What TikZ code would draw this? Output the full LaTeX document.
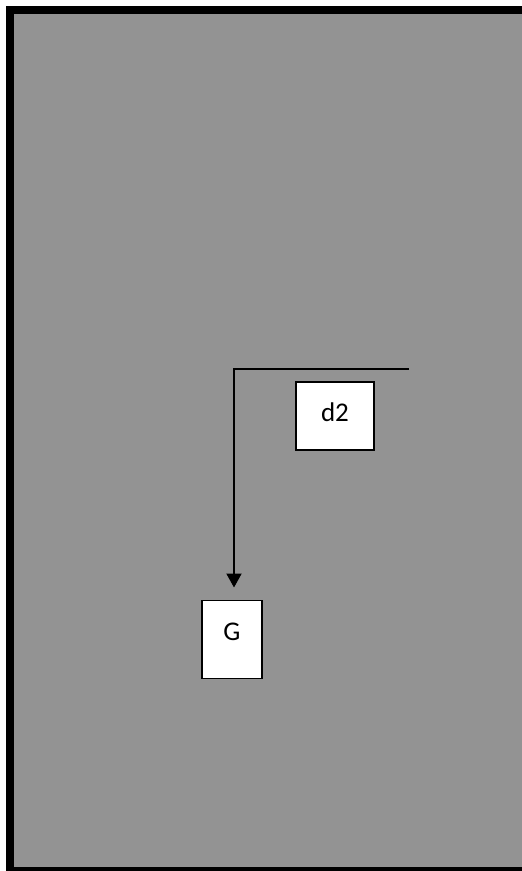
\documentclass[tikz,border=0pt]{standalone}
\usepackage{fontspec}
\setmainfont{Carlito}
\usetikzlibrary{arrows.meta}
\definecolor{bggray}{RGB}{147,147,147}
\tikzset{
  box/.style={draw=black, line width=1.6pt, fill=white, inner sep=0pt, font=\fontsize{27}{32}\selectfont},
  conn/.style={draw=black, line width=2pt},
  tip/.style={-{Triangle[width=15pt,length=14pt]}}
}
\begin{document}
\begin{tikzpicture}[x=1pt,y=-1pt]
\useasboundingbox (0,0) rectangle (522,871);
\clip (0,0) rectangle (522,871);
\fill[white] (0,0) rectangle (522,871);
\draw[line width=8pt, fill=bggray] (10,10) rectangle (540,871);
\node[box, minimum width=78pt, minimum height=68pt] (d2) at (335,416) {\raisebox{8pt}{d2}};
\node[box, minimum width=60pt, minimum height=78pt] (G) at (232,639.5) {\raisebox{15pt}{G}};
\coordinate (s) at (409,369);
\coordinate (c) at (234,369);
\coordinate (t) at (234,600.5);
\draw[conn, tip, shorten >=13pt] (s) -- (c) -- (t);
\end{tikzpicture}
\end{document}
